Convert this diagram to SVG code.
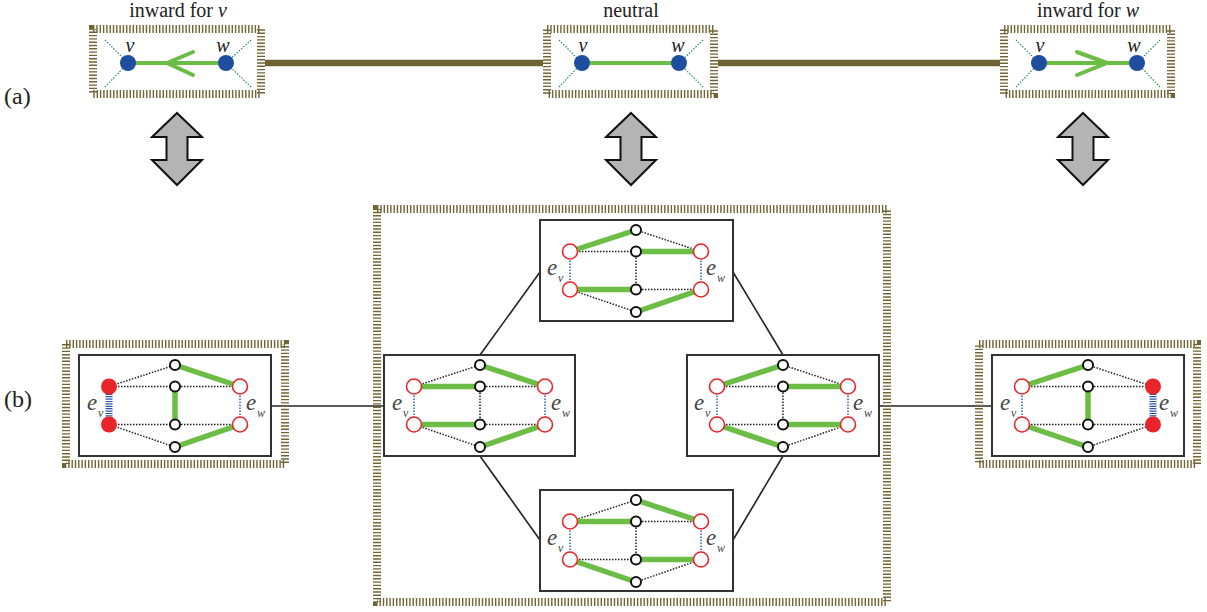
<svg xmlns="http://www.w3.org/2000/svg" xmlns:xlink="http://www.w3.org/1999/xlink" width="1207" height="612" viewBox="0 0 1207 612">
<style>
.hatch{fill:none;stroke:#6f6535;stroke-width:8;stroke-dasharray:1.4 1.9}
.olive{stroke:#6e6433;stroke-width:6.5;fill:none}
.title{font-family:"Liberation Serif",serif;font-size:20px;fill:#222}
.lab{font-family:"Liberation Serif",serif;font-size:24px;fill:#222}
.it{font-style:italic}
.vl{font-family:"Liberation Serif",serif;font-style:italic;font-size:20px;fill:#222}
.bnode{fill:#1f4e9e}
.gtop{stroke:#6cbd45;stroke-width:4;fill:none;stroke-linecap:round;stroke-linejoin:round}
.gdot{stroke:#2a8a5a;stroke-width:1.2;stroke-dasharray:1.5 1.5;fill:none}
.arrow{fill:#b4b4b4;stroke:#111;stroke-width:2;stroke-linejoin:miter}
.box{fill:#fff;stroke:#333;stroke-width:2}
.ge{stroke:#6cbd45;stroke-width:5.5;fill:none}
.de{stroke:#222;stroke-width:1.5;stroke-dasharray:1.5 1.5;fill:none}
.bd{stroke:#2f62c4;stroke-width:1.5;stroke-dasharray:1.5 1.5;fill:none}
.bh{stroke:#2a55b0;stroke-width:7;stroke-dasharray:1.2 1.2;fill:none}
.kn{fill:#fff;stroke:#111;stroke-width:2}
.ro{fill:#fff;stroke:#e8262a;stroke-width:1.6}
.rf{fill:#e8262a}
.conn{stroke:#222;stroke-width:1.6;fill:none}
.e{font-family:"Liberation Serif",serif;font-style:italic;font-size:23px;fill:#444}
.sub{font-family:"Liberation Serif",serif;font-style:italic;font-size:12px;fill:#444}
</style>
<defs>
<path id="darr" class="arrow" d="M0,113 L25,137 L10.5,137 L10.5,160 L25,160 L0,185 L-25,160 L-10.5,160 L-10.5,137 L-25,137 Z"/>
</defs>

<text class="lab" x="4" y="104">(a)</text>
<text class="lab" x="4" y="407">(b)</text>

<g id="connectors">
<line class="olive" x1="265" y1="63" x2="543" y2="63"/>
<line class="olive" x1="718" y1="63" x2="1000" y2="63"/>
<line class="conn" x1="271" y1="406" x2="384" y2="406"/>
<line class="conn" x1="879" y1="406" x2="992" y2="406"/>
<line class="conn" x1="480" y1="355" x2="540" y2="272"/>
<line class="conn" x1="783" y1="355" x2="733" y2="272"/>
<line class="conn" x1="480" y1="456" x2="540" y2="540"/>
<line class="conn" x1="783" y1="456" x2="733" y2="540"/>
<use xlink:href="#darr" href="#darr" x="177"/>
<use xlink:href="#darr" href="#darr" x="631"/>
<use xlink:href="#darr" href="#darr" x="1083"/>
</g>

<g id="top-inward-v">
<text class="title" x="178" y="17" text-anchor="middle">inward for <tspan class="it">v</tspan></text>
<rect class="hatch" x="93" y="29" width="168" height="65"/>
<line class="gdot" x1="105" y1="40" x2="128" y2="63"/>
<line class="gdot" x1="105" y1="87" x2="128" y2="63"/>
<line class="gdot" x1="251" y1="40" x2="226" y2="63"/>
<line class="gdot" x1="251" y1="87" x2="226" y2="63"/>
<line class="gtop" x1="128" y1="63" x2="226" y2="63"/>
<polyline class="gtop" points="193,52 167,63 193,75"/>
<circle class="bnode" cx="128" cy="63" r="8"/>
<circle class="bnode" cx="226" cy="63" r="8"/>
<text class="vl" x="130" y="52" text-anchor="middle">v</text>
<text class="vl" x="223" y="52" text-anchor="middle">w</text>
</g>

<g id="top-neutral">
<text class="title" x="631" y="17" text-anchor="middle">neutral</text>
<rect class="hatch" x="547" y="29" width="167" height="65"/>
<line class="gdot" x1="559" y1="40" x2="582" y2="63"/>
<line class="gdot" x1="559" y1="87" x2="582" y2="63"/>
<line class="gdot" x1="703" y1="40" x2="679" y2="63"/>
<line class="gdot" x1="703" y1="87" x2="679" y2="63"/>
<line class="gtop" x1="582" y1="63" x2="679" y2="63"/>
<circle class="bnode" cx="582" cy="63" r="8"/>
<circle class="bnode" cx="679" cy="63" r="8"/>
<text class="vl" x="583" y="52" text-anchor="middle">v</text>
<text class="vl" x="678" y="52" text-anchor="middle">w</text>
</g>

<g id="top-inward-w">
<text class="title" x="1088" y="17" text-anchor="middle">inward for <tspan class="it">w</tspan></text>
<rect class="hatch" x="1004" y="29" width="167" height="65"/>
<line class="gdot" x1="1016" y1="40" x2="1039" y2="63"/>
<line class="gdot" x1="1016" y1="87" x2="1039" y2="63"/>
<line class="gdot" x1="1160" y1="40" x2="1137" y2="63"/>
<line class="gdot" x1="1160" y1="87" x2="1137" y2="63"/>
<line class="gtop" x1="1039" y1="63" x2="1137" y2="63"/>
<polyline class="gtop" points="1077,52 1107,63 1077,75"/>
<circle class="bnode" cx="1039" cy="63" r="8"/>
<circle class="bnode" cx="1137" cy="63" r="8"/>
<text class="vl" x="1040" y="52" text-anchor="middle">v</text>
<text class="vl" x="1134" y="52" text-anchor="middle">w</text>
</g>

<rect id="left-frame" class="hatch" x="66" y="344" width="219" height="120"/>
<rect id="center-frame" class="hatch" x="377" y="209" width="510" height="393"/>
<rect id="right-frame" class="hatch" x="979" y="344" width="218" height="120"/>

<g id="gadget-left" transform="translate(79,355)">
<rect class="box" x="0" y="0" width="192" height="101"/>
<line class="de" x1="30" y1="31.5" x2="96" y2="10"/>
<line class="de" x1="30" y1="31.5" x2="96" y2="31.5"/>
<line class="de" x1="30" y1="69.5" x2="96" y2="69.5"/>
<line class="de" x1="30" y1="69.5" x2="96" y2="92"/>
<line class="de" x1="96" y1="31.5" x2="161" y2="31.5"/>
<line class="de" x1="96" y1="69.5" x2="161" y2="69.5"/>
<line class="ge" x1="96" y1="10" x2="161" y2="31.5"/>
<line class="ge" x1="96" y1="31.5" x2="96" y2="69.5"/>
<line class="ge" x1="96" y1="92" x2="161" y2="69.5"/>
<line class="bh" x1="30" y1="31.5" x2="30" y2="69.5"/>
<line class="bd" x1="161" y1="31.5" x2="161" y2="69.5"/>
<circle class="rf" cx="30" cy="31.5" r="8"/>
<circle class="rf" cx="30" cy="69.5" r="8"/>
<circle class="ro" cx="161" cy="31.5" r="7.5"/>
<circle class="ro" cx="161" cy="69.5" r="7.5"/>
<circle class="kn" cx="96" cy="10" r="5"/>
<circle class="kn" cx="96" cy="31.5" r="5"/>
<circle class="kn" cx="96" cy="69.5" r="5"/>
<circle class="kn" cx="96" cy="92" r="5"/>
<text class="e" x="8" y="55">e</text><text class="sub" x="19" y="62">v</text>
<text class="e" x="167" y="55">e</text><text class="sub" x="178" y="62">w</text>
</g>

<g id="gadget-mid-left" transform="translate(384,355)">
<rect class="box" x="0" y="0" width="191" height="101"/>
<line class="de" x1="30" y1="31.5" x2="96" y2="10"/>
<line class="de" x1="30" y1="69.5" x2="96" y2="92"/>
<line class="de" x1="96" y1="31.5" x2="161" y2="31.5"/>
<line class="de" x1="96" y1="69.5" x2="161" y2="69.5"/>
<line class="de" x1="96" y1="31.5" x2="96" y2="69.5"/>
<line class="ge" x1="30" y1="31.5" x2="96" y2="31.5"/>
<line class="ge" x1="30" y1="69.5" x2="96" y2="69.5"/>
<line class="ge" x1="96" y1="10" x2="161" y2="31.5"/>
<line class="ge" x1="96" y1="92" x2="161" y2="69.5"/>
<line class="bd" x1="30" y1="31.5" x2="30" y2="69.5"/>
<line class="bd" x1="161" y1="31.5" x2="161" y2="69.5"/>
<circle class="ro" cx="30" cy="31.5" r="7.5"/>
<circle class="ro" cx="30" cy="69.5" r="7.5"/>
<circle class="ro" cx="161" cy="31.5" r="7.5"/>
<circle class="ro" cx="161" cy="69.5" r="7.5"/>
<circle class="kn" cx="96" cy="10" r="5"/>
<circle class="kn" cx="96" cy="31.5" r="5"/>
<circle class="kn" cx="96" cy="69.5" r="5"/>
<circle class="kn" cx="96" cy="92" r="5"/>
<text class="e" x="8" y="55">e</text><text class="sub" x="19" y="62">v</text>
<text class="e" x="167" y="55">e</text><text class="sub" x="178" y="62">w</text>
</g>

<g id="gadget-top" transform="translate(540,220)">
<rect class="box" x="0" y="0" width="193" height="101"/>
<line class="de" x1="96" y1="10" x2="161" y2="31.5"/>
<line class="de" x1="30" y1="31.5" x2="96" y2="31.5"/>
<line class="de" x1="96" y1="31.5" x2="96" y2="69.5"/>
<line class="de" x1="96" y1="69.5" x2="161" y2="69.5"/>
<line class="de" x1="30" y1="69.5" x2="96" y2="92"/>
<line class="ge" x1="30" y1="31.5" x2="96" y2="10"/>
<line class="ge" x1="96" y1="31.5" x2="161" y2="31.5"/>
<line class="ge" x1="30" y1="69.5" x2="96" y2="69.5"/>
<line class="ge" x1="96" y1="92" x2="161" y2="69.5"/>
<line class="bd" x1="30" y1="31.5" x2="30" y2="69.5"/>
<line class="bd" x1="161" y1="31.5" x2="161" y2="69.5"/>
<circle class="ro" cx="30" cy="31.5" r="7.5"/>
<circle class="ro" cx="30" cy="69.5" r="7.5"/>
<circle class="ro" cx="161" cy="31.5" r="7.5"/>
<circle class="ro" cx="161" cy="69.5" r="7.5"/>
<circle class="kn" cx="96" cy="10" r="5"/>
<circle class="kn" cx="96" cy="31.5" r="5"/>
<circle class="kn" cx="96" cy="69.5" r="5"/>
<circle class="kn" cx="96" cy="92" r="5"/>
<text class="e" x="7" y="55">e</text><text class="sub" x="18" y="62">v</text>
<text class="e" x="166" y="55">e</text><text class="sub" x="177" y="62">w</text>
</g>

<g id="gadget-bottom" transform="translate(540,490)">
<rect class="box" x="0" y="0" width="193" height="101"/>
<line class="de" x1="30" y1="31.5" x2="96" y2="10"/>
<line class="de" x1="96" y1="31.5" x2="161" y2="31.5"/>
<line class="de" x1="96" y1="31.5" x2="96" y2="69.5"/>
<line class="de" x1="30" y1="69.5" x2="96" y2="69.5"/>
<line class="de" x1="96" y1="92" x2="161" y2="69.5"/>
<line class="ge" x1="96" y1="10" x2="161" y2="31.5"/>
<line class="ge" x1="30" y1="31.5" x2="96" y2="31.5"/>
<line class="ge" x1="96" y1="69.5" x2="161" y2="69.5"/>
<line class="ge" x1="30" y1="69.5" x2="96" y2="92"/>
<line class="bd" x1="30" y1="31.5" x2="30" y2="69.5"/>
<line class="bd" x1="161" y1="31.5" x2="161" y2="69.5"/>
<circle class="ro" cx="30" cy="31.5" r="7.5"/>
<circle class="ro" cx="30" cy="69.5" r="7.5"/>
<circle class="ro" cx="161" cy="31.5" r="7.5"/>
<circle class="ro" cx="161" cy="69.5" r="7.5"/>
<circle class="kn" cx="96" cy="10" r="5"/>
<circle class="kn" cx="96" cy="31.5" r="5"/>
<circle class="kn" cx="96" cy="69.5" r="5"/>
<circle class="kn" cx="96" cy="92" r="5"/>
<text class="e" x="7" y="55">e</text><text class="sub" x="18" y="62">v</text>
<text class="e" x="166" y="55">e</text><text class="sub" x="177" y="62">w</text>
</g>

<g id="gadget-mid-right" transform="translate(687,355)">
<rect class="box" x="0" y="0" width="192" height="101"/>
<line class="de" x1="30" y1="31.5" x2="96" y2="31.5"/>
<line class="de" x1="96" y1="10" x2="161" y2="31.5"/>
<line class="de" x1="96" y1="31.5" x2="96" y2="69.5"/>
<line class="de" x1="30" y1="69.5" x2="96" y2="69.5"/>
<line class="de" x1="96" y1="92" x2="161" y2="69.5"/>
<line class="ge" x1="30" y1="31.5" x2="96" y2="10"/>
<line class="ge" x1="96" y1="31.5" x2="161" y2="31.5"/>
<line class="ge" x1="96" y1="69.5" x2="161" y2="69.5"/>
<line class="ge" x1="30" y1="69.5" x2="96" y2="92"/>
<line class="bd" x1="30" y1="31.5" x2="30" y2="69.5"/>
<line class="bd" x1="161" y1="31.5" x2="161" y2="69.5"/>
<circle class="ro" cx="30" cy="31.5" r="7.5"/>
<circle class="ro" cx="30" cy="69.5" r="7.5"/>
<circle class="ro" cx="161" cy="31.5" r="7.5"/>
<circle class="ro" cx="161" cy="69.5" r="7.5"/>
<circle class="kn" cx="96" cy="10" r="5"/>
<circle class="kn" cx="96" cy="31.5" r="5"/>
<circle class="kn" cx="96" cy="69.5" r="5"/>
<circle class="kn" cx="96" cy="92" r="5"/>
<text class="e" x="7" y="55">e</text><text class="sub" x="18" y="62">v</text>
<text class="e" x="166" y="55">e</text><text class="sub" x="177" y="62">w</text>
</g>

<g id="gadget-right" transform="translate(992,355)">
<rect class="box" x="0" y="0" width="192" height="101"/>
<line class="de" x1="30" y1="31.5" x2="96" y2="31.5"/>
<line class="de" x1="96" y1="10" x2="161" y2="31.5"/>
<line class="de" x1="96" y1="31.5" x2="161" y2="31.5"/>
<line class="de" x1="30" y1="69.5" x2="96" y2="69.5"/>
<line class="de" x1="96" y1="69.5" x2="161" y2="69.5"/>
<line class="de" x1="96" y1="92" x2="161" y2="69.5"/>
<line class="ge" x1="30" y1="31.5" x2="96" y2="10"/>
<line class="ge" x1="96" y1="31.5" x2="96" y2="69.5"/>
<line class="ge" x1="30" y1="69.5" x2="96" y2="92"/>
<line class="bd" x1="30" y1="31.5" x2="30" y2="69.5"/>
<line class="bh" x1="161" y1="31.5" x2="161" y2="69.5"/>
<circle class="ro" cx="30" cy="31.5" r="7.5"/>
<circle class="ro" cx="30" cy="69.5" r="7.5"/>
<circle class="rf" cx="161" cy="31.5" r="8"/>
<circle class="rf" cx="161" cy="69.5" r="8"/>
<circle class="kn" cx="96" cy="10" r="5"/>
<circle class="kn" cx="96" cy="31.5" r="5"/>
<circle class="kn" cx="96" cy="69.5" r="5"/>
<circle class="kn" cx="96" cy="92" r="5"/>
<text class="e" x="8" y="55">e</text><text class="sub" x="19" y="62">v</text>
<text class="e" x="167" y="55">e</text><text class="sub" x="178" y="62">w</text>
</g>
</svg>
